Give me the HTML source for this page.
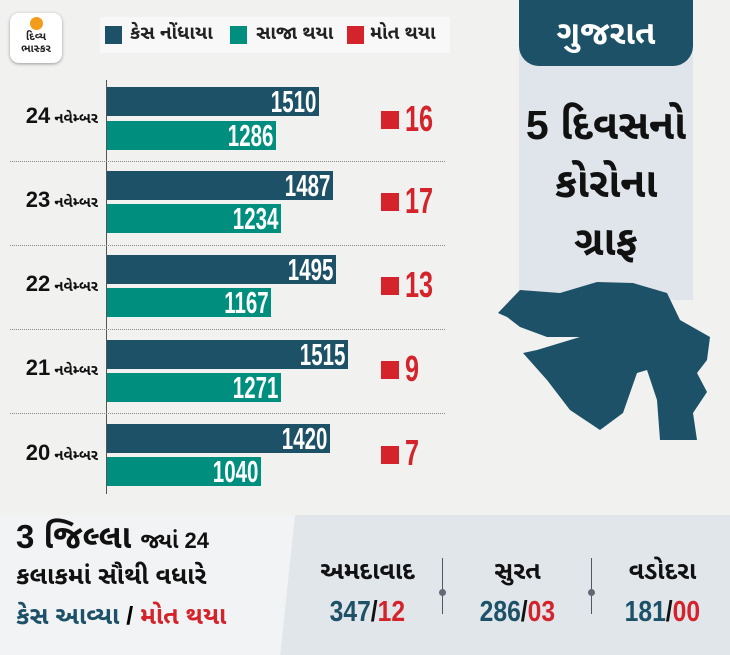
<!DOCTYPE html>
<html><head><meta charset="utf-8"><style>
body{margin:0;width:730px;height:655px;overflow:hidden;background:#f1f1f0;font-family:"Liberation Sans","Noto Sans Gujarati","Noto Sans CJK SC",sans-serif;position:relative}
.a{position:absolute}
.bar{position:absolute;left:107px;height:29px;color:#fff;font-weight:bold;font-size:31px;line-height:29px;text-align:right;overflow:hidden}
.bar span{display:inline-block;transform:scaleX(.66);transform-origin:right;padding-right:4px}
.d{background:#1d5167}.t{background:#008f7f}
.lab{position:absolute;left:0;width:98px;text-align:right;font-size:15px;font-weight:bold;color:#111;white-space:nowrap}
.lab b{font-size:22px}
.sq{position:absolute;left:381px;width:18px;height:18px;background:#d4232a}
.num{position:absolute;left:405px;font-size:36px;font-weight:bold;color:#d4232a;transform:scaleX(.7);transform-origin:left}
.dot{position:absolute;left:10px;width:435px;border-top:1px dotted #888}
</style></head><body>
<div class="a" style="left:10px;top:13px;width:52px;height:50px;background:#fff;border-radius:9px;box-shadow:0 1px 3px #999"></div>
<div class="a" style="left:30px;top:17px;width:13px;height:13px;border-radius:50%;background:#f39c1b"></div>
<div class="a" style="left:12px;top:31px;width:48px;font-size:11px;font-weight:bold;text-align:center;line-height:12px;color:#222">દિવ્ય<br>ભાસ્કર</div>
<div class="a" style="left:100px;top:17px;width:350px;height:36px;background:#f8f8f8"></div>
<div class="a" style="left:105px;top:26px;width:17px;height:18px;background:#1d5167"></div>
<div class="a" style="left:130px;top:22px;font-size:19px;font-weight:bold;color:#222">કેસ નોંધાયા</div>
<div class="a" style="left:230px;top:26px;width:17px;height:18px;background:#008f7f"></div>
<div class="a" style="left:256px;top:22px;font-size:19px;font-weight:bold;color:#222">સાજા થયા</div>
<div class="a" style="left:347px;top:26px;width:17px;height:18px;background:#d4232a"></div>
<div class="a" style="left:370px;top:22px;font-size:19px;font-weight:bold;color:#222">મોત થયા</div>

<div class="a" style="left:106px;top:80px;width:1px;height:414px;background:#555"></div>
<div class="dot" style="top:161px"></div><div class="dot" style="top:245px"></div><div class="dot" style="top:329px"></div><div class="dot" style="top:413px"></div>

<div class="bar d" style="top:87px;width:212px"><span>1510</span></div>
<div class="bar t" style="top:121px;width:169px"><span>1286</span></div>
<div class="lab" style="top:103px"><b>24</b> નવેમ્બર</div><div class="sq" style="top:111px"></div><div class="num" style="top:98px">16</div>

<div class="bar d" style="top:171px;width:226px"><span>1487</span></div>
<div class="bar t" style="top:204px;width:174px"><span>1234</span></div>
<div class="lab" style="top:187px"><b>23</b> નવેમ્બર</div><div class="sq" style="top:193px"></div><div class="num" style="top:180px">17</div>

<div class="bar d" style="top:255px;width:229px"><span>1495</span></div>
<div class="bar t" style="top:288px;width:164px"><span>1167</span></div>
<div class="lab" style="top:271px"><b>22</b> નવેમ્બર</div><div class="sq" style="top:277px"></div><div class="num" style="top:264px">13</div>

<div class="bar d" style="top:340px;width:241px"><span>1515</span></div>
<div class="bar t" style="top:373px;width:174px"><span>1271</span></div>
<div class="lab" style="top:355px"><b>21</b> નવેમ્બર</div><div class="sq" style="top:361px"></div><div class="num" style="top:348px">9</div>

<div class="bar d" style="top:424px;width:223px"><span>1420</span></div>
<div class="bar t" style="top:457px;width:154px"><span>1040</span></div>
<div class="lab" style="top:440px"><b>20</b> નવેમ્બર</div><div class="sq" style="top:446px"></div><div class="num" style="top:432px">7</div>

<div class="a" style="left:519px;top:0;width:174px;height:300px;background:#dfe5ea"></div>
<div class="a" style="left:519px;top:0;width:174px;height:66px;background:#1d5167;border-radius:0 0 20px 20px;color:#fff;font-size:33px;font-weight:bold;text-align:center;line-height:66px">ગુજરાત</div>
<div class="a" style="left:505px;top:96px;width:202px;text-align:center;font-size:41px;font-weight:bold;color:#111;line-height:58px">5 દિવસનો<br>કોરોના<br>ગ્રાફ</div>
<svg class="a" style="left:0;top:0" width="730" height="655">
<path fill="#1d5167" d="M498 313 L520 290 L560 293 L597 282 L633 283 L667 293 L680 320 L710 337 L707 360 L697 373 L707 392 L693 413 L697 440 L660 440 L657 400 L647 370 L637 373 L623 413 L600 430 L570 410 L547 380 L523 353 L537 350 L570 340 L580 337 L547 337 L520 327 L507 317 Z"/>
</svg>

<div class="a" style="left:0;top:515px;width:730px;height:140px;background:#e1e6eb"></div>
<div class="a" style="left:0;top:515px;width:295px;height:140px;background:#f1f3f5;clip-path:polygon(0 0,100% 0,95% 100%,0 100%)"></div>
<div class="a" style="left:16px;top:518px;font-size:33px;font-weight:bold;color:#111">3 જિલ્લા <span style="font-size:22px">જ્યાં 24</span></div>
<div class="a" style="left:16px;top:562px;font-size:25px;font-weight:bold;color:#111">કલાકમાં સૌથી વધારે</div>
<div class="a" style="left:16px;top:602px;font-size:25px;font-weight:bold"><span style="color:#1d5167">કેસ આવ્યા</span> / <span style="color:#d4232a">મોત થયા</span></div>
<div class="a" style="left:442px;top:558px;width:1px;height:56px;background:#556"></div>
<div class="a" style="left:439px;top:589px;width:7px;height:7px;border-radius:50%;background:#667"></div>
<div class="a" style="left:591px;top:558px;width:1px;height:56px;background:#556"></div>
<div class="a" style="left:588px;top:589px;width:7px;height:7px;border-radius:50%;background:#667"></div>
<div class="a" style="left:295px;top:557px;width:145px;text-align:center;font-size:25px;font-weight:bold;color:#111">અમદાવાદ</div>
<div class="a" style="left:445px;top:557px;width:145px;text-align:center;font-size:25px;font-weight:bold;color:#111">સુરત</div>
<div class="a" style="left:595px;top:557px;width:135px;text-align:center;font-size:25px;font-weight:bold;color:#111">વડોદરા</div>
<div class="a" style="left:295px;top:596px;width:145px;text-align:center;font-size:29px;font-weight:bold;color:#1d5167"><span style="display:inline-block;transform:scaleX(.85)">347<span style="color:#111">/</span><span style="color:#d4232a">12</span></span></div>
<div class="a" style="left:445px;top:596px;width:145px;text-align:center;font-size:29px;font-weight:bold;color:#1d5167"><span style="display:inline-block;transform:scaleX(.85)">286<span style="color:#111">/</span><span style="color:#d4232a">03</span></span></div>
<div class="a" style="left:595px;top:596px;width:135px;text-align:center;font-size:29px;font-weight:bold;color:#1d5167"><span style="display:inline-block;transform:scaleX(.85)">181<span style="color:#111">/</span><span style="color:#d4232a">00</span></span></div>
</body></html>
